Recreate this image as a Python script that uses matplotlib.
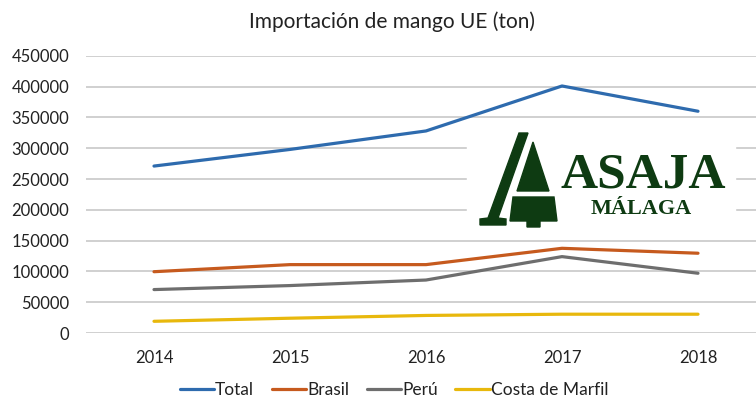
import matplotlib.pyplot as plt
from matplotlib.patches import Polygon, Rectangle

years = ['2014', '2015', '2016', '2017', '2018']
total = [271000, 298000, 328000, 401000, 360000]
brasil = [99500, 111000, 111000, 137500, 129500]
peru = [70500, 77000, 86000, 124000, 97000]
costa_marfil = [19000, 24000, 28500, 30500, 30500]

series = [('Total', total, '#2E6BAE'),
          ('Brasil', brasil, '#C65A1E'),
          ('Perú', peru, '#6E6E6E'),
          ('Costa de Marfil', costa_marfil, '#E8B80C')]

plt.rcParams['font.family'] = ['Lato', 'DejaVu Sans']

W, H = 756, 403
fig = plt.figure(figsize=(W / 100, H / 100), dpi=100)
# plot area in pixels: x 86..766, y 55.8..333
ax = fig.add_axes([86 / W, 1 - 333 / H, 680 / W, (333 - 55.8) / H])

x = range(len(years))
for name, vals, col in series:
    ax.plot(x, vals, color=col, lw=2.3, label=name, solid_capstyle='round', zorder=3)

ax.set_xlim(-0.5, 4.5)
ax.set_ylim(0, 450000)
ax.set_yticks(range(0, 450001, 50000))
ax.set_yticklabels([str(v) for v in range(0, 450001, 50000)])
ax.set_xticks(list(x))
ax.set_xticklabels(years)
ax.grid(axis='y', color='#C8C8C8', lw=1.2)
ax.set_axisbelow(True)
for s in ax.spines.values():
    s.set_visible(False)
ax.tick_params(axis='both', length=0, labelsize=12, colors='#222222')
ax.tick_params(axis='y', pad=12)
ax.tick_params(axis='x', pad=12)

fig.text(392 / W, 1 - 22 / H, 'Importación de mango UE (ton)', ha='center', va='center',
         fontsize=15, color='#222222')

fig.legend(loc='center', bbox_to_anchor=(394 / W, 1 - 390 / H), ncol=4, frameon=False,
           fontsize=12.5, handlelength=2.0, handletextpad=0.05, columnspacing=1.0,
           labelcolor='#222222')

# logo overlay in pixel coordinates
lg = fig.add_axes([0, 0, 1, 1], zorder=5)
lg.set_xlim(0, W)
lg.set_ylim(H, 0)
lg.axis('off')
lg.patch.set_alpha(0)
green = '#0E3B12'
lg.add_patch(Rectangle((467, 120), 268, 112, color='white', zorder=1))
lg.add_patch(Polygon([(519, 133), (528, 133), (498, 218), (506, 219), (506, 225),
                      (480, 225), (480, 219), (488, 218)], closed=True, color=green, zorder=2))
lg.add_patch(Polygon([(533, 142), (549, 191), (517, 191)], closed=True, color=green, zorder=2))
lg.add_patch(Polygon([(513, 197), (554, 197), (557, 221), (540, 221), (540, 227),
                      (527, 227), (527, 221), (510, 221)], closed=True, color=green, zorder=2))
lg.text(643, 188, 'ASAJA', ha='center', va='baseline', fontsize=37, fontweight='bold',
        family='Liberation Serif', color=green, zorder=3)
lg.text(641, 214, 'MÁLAGA', ha='center', va='baseline', fontsize=16, fontweight='bold',
        family='Liberation Serif', color=green, zorder=3)

fig.savefig('out.png', dpi=100)
